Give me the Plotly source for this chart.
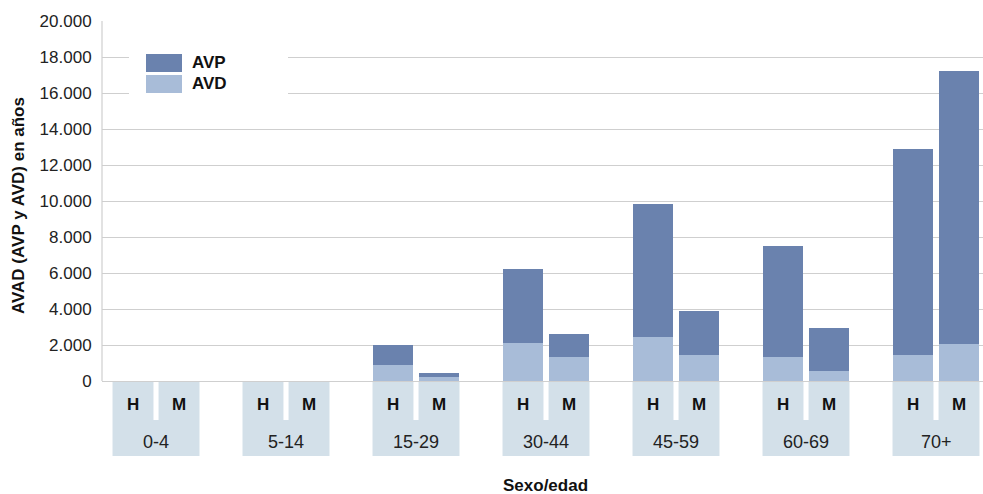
import plotly.graph_objects as go

# Age groups and sex labels
groups = ["0-4", "5-14", "15-29", "30-44", "45-59", "60-69", "70+"]
sex_labels = ["H", "M"]

# AVAD components in years (AVD = years lived with disability, AVP = years of life lost)
avd_h = [0, 0, 900, 2100, 2450, 1350, 1450]
avp_h = [0, 0, 1100, 4100, 7400, 6150, 11450]
avd_m = [0, 0, 200, 1350, 1450, 550, 2050]
avp_m = [0, 0, 250, 1250, 2450, 2400, 15200]

y_ticks = [0, 2000, 4000, 6000, 8000, 10000, 12000, 14000, 16000, 18000, 20000]

# Styling
C_AVP = "#6a82ae"
C_AVD = "#a8bcd8"
C_BOX = "#d3e0e9"
C_GRID = "#cfcfcf"
FONT = "Liberation Sans"

# Layout geometry (pixels)
W, H = 983, 494
L, R, T, B = 102, 0, 21, 38
PW, PH = W - L - R, H - T - B

OFF = 0.177      # half distance between H and M bar centres (group units)
BW = 0.315       # bar width (group units)
Y_MIN = -4167    # room below zero for the category boxes
Y_MAX = 20000

x_h = [i - OFF for i in range(len(groups))]
x_m = [i + OFF for i in range(len(groups))]


def px_to_paper_x(px):
    return (px - L) / PW


def px_to_paper_y(py):
    return (H - B - py) / PH


fig = go.Figure()
fig.add_bar(x=x_h, y=avd_h, width=BW, marker_color=C_AVD, name="AVD",
            showlegend=False, marker_line_width=0)
fig.add_bar(x=x_h, y=avp_h, width=BW, marker_color=C_AVP, name="AVP",
            showlegend=False, marker_line_width=0)
fig.add_bar(x=x_m, y=avd_m, width=BW, marker_color=C_AVD, name="AVD",
            showlegend=False, marker_line_width=0)
fig.add_bar(x=x_m, y=avp_m, width=BW, marker_color=C_AVP, name="AVP",
            showlegend=False, marker_line_width=0)

shapes = []
annotations = []

# Category boxes under the axis: one column per sex, joined at the bottom
split_y = -2167
for i, g in enumerate(groups):
    for xc in (i - OFF, i + OFF):
        shapes.append(dict(type="rect", xref="x", yref="y",
                           x0=xc - BW / 2, x1=xc + BW / 2, y0=split_y, y1=-60,
                           fillcolor=C_BOX, line_width=0, layer="below"))
    shapes.append(dict(type="rect", xref="x", yref="y",
                       x0=i - OFF - BW / 2, x1=i + OFF + BW / 2,
                       y0=Y_MIN, y1=split_y + 1,
                       fillcolor=C_BOX, line_width=0, layer="below"))
    for xc, s in zip((i - OFF, i + OFF), sex_labels):
        annotations.append(dict(x=xc, y=-1333, xref="x", yref="y",
                                text=f"<b>{s}</b>", showarrow=False,
                                font=dict(family=FONT, size=17, color="#111"),
                                xanchor="center", yanchor="middle"))
    annotations.append(dict(x=i, y=-3389, xref="x", yref="y", text=g,
                            showarrow=False,
                            font=dict(family=FONT, size=18, color="#222"),
                            xanchor="center", yanchor="middle"))

# Left border of the value area
shapes.append(dict(type="line", xref="paper", yref="y", x0=0, x1=0,
                   y0=0, y1=Y_MAX, line=dict(color=C_GRID, width=1.2)))

# Legend: white panel with two swatches
shapes.append(dict(type="rect", xref="paper", yref="paper",
                   x0=px_to_paper_x(129), x1=px_to_paper_x(288),
                   y0=px_to_paper_y(108), y1=px_to_paper_y(40),
                   fillcolor="white", line_width=0, layer="above"))
for name, color, top in (("AVP", C_AVP, 54), ("AVD", C_AVD, 75)):
    shapes.append(dict(type="rect", xref="paper", yref="paper",
                       x0=px_to_paper_x(146), x1=px_to_paper_x(182),
                       y0=px_to_paper_y(top + 18), y1=px_to_paper_y(top),
                       fillcolor=color, line_width=0, layer="above"))
    annotations.append(dict(x=px_to_paper_x(190), y=px_to_paper_y(top + 9),
                            xref="paper", yref="paper", text=f"<b>{name}</b>",
                            showarrow=False, xanchor="left", yanchor="middle",
                            font=dict(family=FONT, size=17, color="#111")))

# Axis titles
annotations.append(dict(x=0, xshift=18 - L, y=px_to_paper_y(206),
                        xref="paper", yref="paper",
                        text="<b>AVAD (AVP y AVD) en años</b>", textangle=-90,
                        showarrow=False, xanchor="center", yanchor="middle",
                        font=dict(family=FONT, size=17, color="#111")))
annotations.append(dict(x=px_to_paper_x(545), y=px_to_paper_y(486),
                        xref="paper", yref="paper", text="<b>Sexo/edad</b>",
                        showarrow=False, xanchor="center", yanchor="middle",
                        font=dict(family=FONT, size=17, color="#111")))

fig.update_layout(
    width=W, height=H,
    margin=dict(l=L, r=R, t=T, b=B, pad=0),
    barmode="stack",
    bargap=0,
    plot_bgcolor="white",
    paper_bgcolor="white",
    separators=",.",
    showlegend=False,
    shapes=shapes,
    annotations=annotations,
    font=dict(family=FONT, size=17, color="#222"),
    xaxis=dict(range=[(L - 156) / 130, (W - R - 156) / 130],
               showgrid=False, zeroline=False, showticklabels=False,
               showline=False, ticks="", fixedrange=True),
    yaxis=dict(range=[Y_MIN, Y_MAX], tickvals=y_ticks, tickformat=",d",
               showgrid=True, gridcolor=C_GRID, gridwidth=1.2,
               zeroline=False, showline=False,
               ticks="outside", ticklen=6, tickcolor="rgba(0,0,0,0)",
               tickfont=dict(family=FONT, size=17, color="#222"),
               fixedrange=True),
)

fig.write_html("out.html")
